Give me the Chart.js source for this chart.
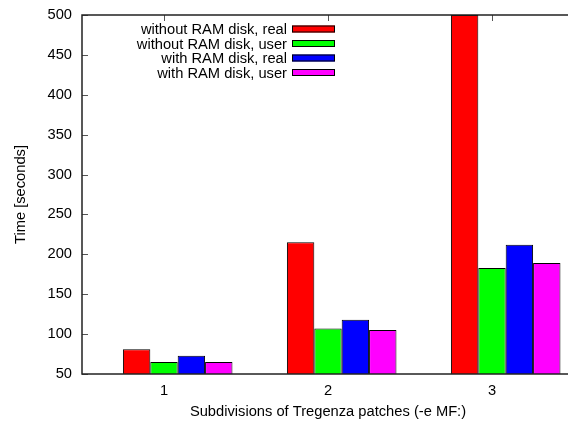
<!DOCTYPE html>
<html>
<head>
<meta charset="utf-8">
<script src="https://cdn.jsdelivr.net/npm/chart.js@4/dist/chart.umd.min.js"></script>
<style>
  html, body { margin: 0; padding: 0; background: #fff; overflow: hidden; }
  canvas { display: block; }
</style>
</head>
<body>
<canvas id="grafico" width="574" height="421"></canvas>
<script>
// dados
const categorias = ['1', '2', '3']
const semRamReal = [81, 215, 500]
const semRamUser = [65, 107, 183]
const comRamReal = [73, 118, 212]
const comRamUser = [65, 105, 189]
const ticksY = [50, 100, 150, 200, 250, 300, 350, 400, 450, 500]

const fonte = "'Liberation Sans', Arial, Helvetica, sans-serif"
const tamFonte = 14.7

// moldura + ticks para dentro, estilo gnuplot
const moldura = {
  id: 'moldura',
  afterDatasetsDraw(chart) {
    const ctx = chart.ctx
    const a = chart.chartArea
    const x = chart.scales.x
    const y = chart.scales.y
    ctx.save()
    ctx.strokeStyle = '#555'
    ctx.lineWidth = 1
    ctx.beginPath()
    ticksY.forEach(v => {
      const py = Math.round(y.getPixelForValue(v)) + 0.5
      ctx.moveTo(a.left, py)
      ctx.lineTo(a.left + 6, py)
    })
    categorias.forEach((c, i) => {
      const px = Math.round(x.getPixelForValue(i)) + 0.5
      ctx.moveTo(px, a.top)
      ctx.lineTo(px, a.top + 6)
    })
    ctx.stroke()
    ctx.strokeStyle = '#222'
    ctx.lineWidth = 1.5
    ctx.strokeRect(a.left, a.top, a.right - a.left, a.bottom - a.top)
    ctx.restore()
  }
}

// legenda: texto alinhado a direita, caixa de cor depois
const legenda = {
  id: 'legenda',
  afterDraw(chart) {
    const ctx = chart.ctx
    ctx.save()
    ctx.font = tamFonte + 'px ' + fonte
    ctx.textAlign = 'right'
    ctx.textBaseline = 'middle'
    let yy = 29
    chart.data.datasets.forEach(ds => {
      if (!ds.label) return
      ctx.fillStyle = '#000'
      ctx.fillText(ds.label, 287, yy + 1)
      ctx.fillStyle = ds.backgroundColor
      ctx.fillRect(292, yy - 3.5, 43, 7)
      ctx.strokeStyle = '#000'
      ctx.lineWidth = 1
      ctx.strokeRect(292.5, yy - 3, 42, 6)
      yy += 14.5
    })
    ctx.restore()
  }
}

const ctx = document.getElementById('grafico')

new Chart(ctx, {
  type: 'bar',
  data: {
    labels: categorias,
    datasets: [
      // slot vazio so para deslocar o grupo como no gnuplot
      { label: '', data: [null, null, null], backgroundColor: 'rgba(0,0,0,0)' },
      { label: 'without RAM disk, real', data: semRamReal, backgroundColor: '#ff0000' },
      { label: 'without RAM disk, user', data: semRamUser, backgroundColor: '#00ff00' },
      { label: 'with RAM disk, real', data: comRamReal, backgroundColor: '#0000ff' },
      { label: 'with RAM disk, user', data: comRamUser, backgroundColor: '#ff00ff' }
    ]
  },
  options: {
    responsive: false,
    animation: false,
    datasets: {
      bar: {
        borderColor: '#000',
        borderWidth: 1,
        borderSkipped: false,
        categoryPercentage: 0.835,
        barPercentage: 1
      }
    },
    layout: { padding: { top: 15, left: 0, right: 0, bottom: 0 } },
    plugins: {
      legend: { display: false },
      tooltip: { enabled: false }
    },
    scales: {
      x: {
        grid: { display: false, drawTicks: false },
        border: { display: false },
        ticks: { color: '#000', padding: 8, font: { family: fonte, size: tamFonte } },
        title: {
          display: true,
          text: 'Subdivisions of Tregenza patches (-e MF:)',
          color: '#000',
          font: { family: fonte, size: tamFonte },
          padding: { top: 0, bottom: 0 }
        },
        afterFit(scale) {
          scale.height = 47
          scale.paddingLeft = 0
          scale.paddingRight = 0
        }
      },
      y: {
        min: 50,
        max: 500,
        grid: { display: false, drawTicks: false },
        border: { display: false },
        ticks: {
          stepSize: 50,
          color: '#000',
          padding: 10,
          font: { family: fonte, size: tamFonte }
        },
        title: {
          display: true,
          text: 'Time [seconds]',
          color: '#000',
          font: { family: fonte, size: tamFonte },
          padding: { top: 12, bottom: 0 }
        },
        afterFit(scale) {
          scale.width = 82
          scale.paddingTop = 0
          scale.paddingBottom = 0
        }
      }
    }
  },
  plugins: [moldura, legenda]
})
</script>
</body>
</html>
